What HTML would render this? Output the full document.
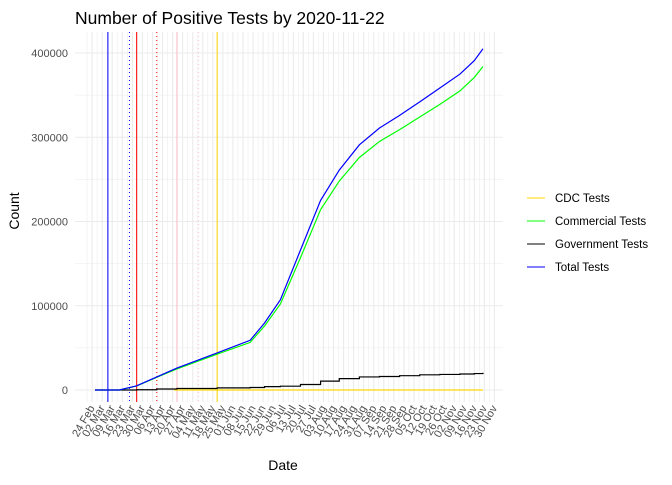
<!DOCTYPE html>
<html><head><meta charset="utf-8"><style>
body{margin:0;background:#fff;font-family:"Liberation Sans",Arial,sans-serif}
svg text{font-family:"Liberation Sans",Arial,sans-serif}
</style></head><body>
<svg id="c" width="672" height="480" xmlns="http://www.w3.org/2000/svg">
<text x="75" y="24" font-size="17.5" fill="#000">Number of Positive Tests by  2020-11-22</text>
<g id="grid"></g><g id="vlines"></g><g id="series"></g><g id="axes"></g>
<text x="283" y="470" font-size="14" text-anchor="middle">Date</text>
<text transform="translate(19,211) rotate(-90)" font-size="14" text-anchor="middle">Count</text>
<g id="legend"></g>
</svg>
<script>
const dates=["2020-02-26","2020-03-14","2020-03-26","2020-04-09","2020-04-23","2020-05-21","2020-06-13","2020-06-23","2020-07-04","2020-07-18","2020-08-01","2020-08-14","2020-08-28","2020-09-11","2020-09-25","2020-10-09","2020-10-23","2020-11-06","2020-11-16","2020-11-22"];
const totalTests=[0,0,5000,15500,26000,44000,59000,79500,107000,166000,225000,261000,291000,311000,326000,342000,358500,375000,391000,405000];
const commercialTests=[0,0,4800,15000,25000,42500,56500,76000,102000,157000,214000,248000,276000,295000,309000,324000,339000,355000,371000,384000];
const governmentTests=[0,0,300,1200,1800,2500,3000,4000,4500,6500,10500,13500,15500,16000,17000,18000,18500,19000,19500,20500];
const cdcDates=["2020-04-21","2020-11-22"];
const cdcTests=[0,0];
const eventDates=["2020-03-06","2020-03-21","2020-03-26","2020-04-09","2020-04-23","2020-05-08","2020-05-21"];
const eventColors=["blue","blue","red","red","pink","pink","gold"];
const eventDotted=[false,true,false,true,false,true,false];
const yTicks=[0,100000,200000,300000,400000];
const NS="http://www.w3.org/2000/svg";
const D0=Date.UTC(2020,1,24);
function day(s){const p=s.split("-");return (Date.UTC(+p[0],+p[1]-1,+p[2])-D0)/864e5;}
function X(s){return 92.1+day(s)*1.437;}
function Xd(d){return 92.1+d*1.437;}
function Y(v){return 390-v*0.0008425;}
const L=75,R=503,T=32,B=402;
function mk(t,a,p){const e=document.createElementNS(NS,t);for(const k in a)e.setAttribute(k,a[k]);(p||document.getElementById("c")).appendChild(e);return e;}
const grid=document.getElementById("grid");
for(let v=-50000;v<=450000;v+=50000){const y=Y(v);if(y<T||y>B)continue;
 const g=mk("line",{x1:L,x2:R,y1:y,y2:y,stroke:"#ebebeb","stroke-width":v%100000===0?1.1:0.55},grid);
 
 }
const months=["Jan","Feb","Mar","Apr","May","Jun","Jul","Aug","Sep","Oct","Nov","Dec"];
const ax=document.getElementById("axes");
for(let d=-3.5;d<=283;d+=3.5){const x=Xd(d);if(x<L||x>R)continue;
 const major=Math.abs(d/7-Math.round(d/7))<1e-6;
 const g=mk("line",{x1:x,x2:x,y1:T,y2:B,stroke:"#ebebeb","stroke-width":major?1.1:0.55},grid);
 
 
 if(major){const dt=new Date(D0+d*864e5);const lab=String(dt.getUTCDate()).padStart(2,"0")+" "+months[dt.getUTCMonth()];
  const t=mk("text",{transform:`translate(${x+3},${B+6}) rotate(-60)`,"font-size":"11","fill":"#4d4d4d","text-anchor":"end"},ax);t.textContent=lab;
  
  }}
yTicks.forEach(v=>{const t=mk("text",{x:68,y:Y(v)+4,"font-size":"11","fill":"#4d4d4d","text-anchor":"end"},ax);t.textContent=v;
 
 });
const vl=document.getElementById("vlines");
eventDates.forEach((s,i)=>{const l=mk("line",{x1:X(s),x2:X(s),y1:T,y2:B,stroke:eventColors[i],"stroke-width":1},vl);
 if(eventDotted[i])l.setAttribute("stroke-dasharray","1,3");
 
 });
const sg=document.getElementById("series");
function path(xs,ys,step){let d="";xs.forEach((s,i)=>{const x=X(s),y=Y(ys[i]);if(i===0)d+="M"+x+","+y;else if(step)d+="H"+x+"V"+y;else d+="L"+x+","+y;});return d;}
const cdc=mk("path",{d:path(cdcDates,cdcTests),stroke:"gold",fill:"none","stroke-width":1.2},sg);


const gov=mk("path",{d:path(dates,governmentTests,true),stroke:"#000",fill:"none","stroke-width":1.2},sg);


const com=mk("path",{d:path(dates,commercialTests),stroke:"#00ff00",fill:"none","stroke-width":1.2},sg);


const tot=mk("path",{d:path(dates,totalTests),stroke:"blue",fill:"none","stroke-width":1.2},sg);


const lg=document.getElementById("legend");
const legNames=["CDC Tests","Commercial Tests","Government Tests","Total Tests"];
const legCols=["gold","#00ff00","#000","blue"];
legNames.forEach((n,i)=>{const y=198+i*23;
 const l=mk("line",{x1:527,x2:545,y1:y,y2:y,stroke:legCols[i],"stroke-width":1},lg);
 
 
 const t=mk("text",{x:555,y:y+4,"font-size":"11.5",fill:"#000"},lg);t.textContent=n;
 
 });
</script>
</body></html>
